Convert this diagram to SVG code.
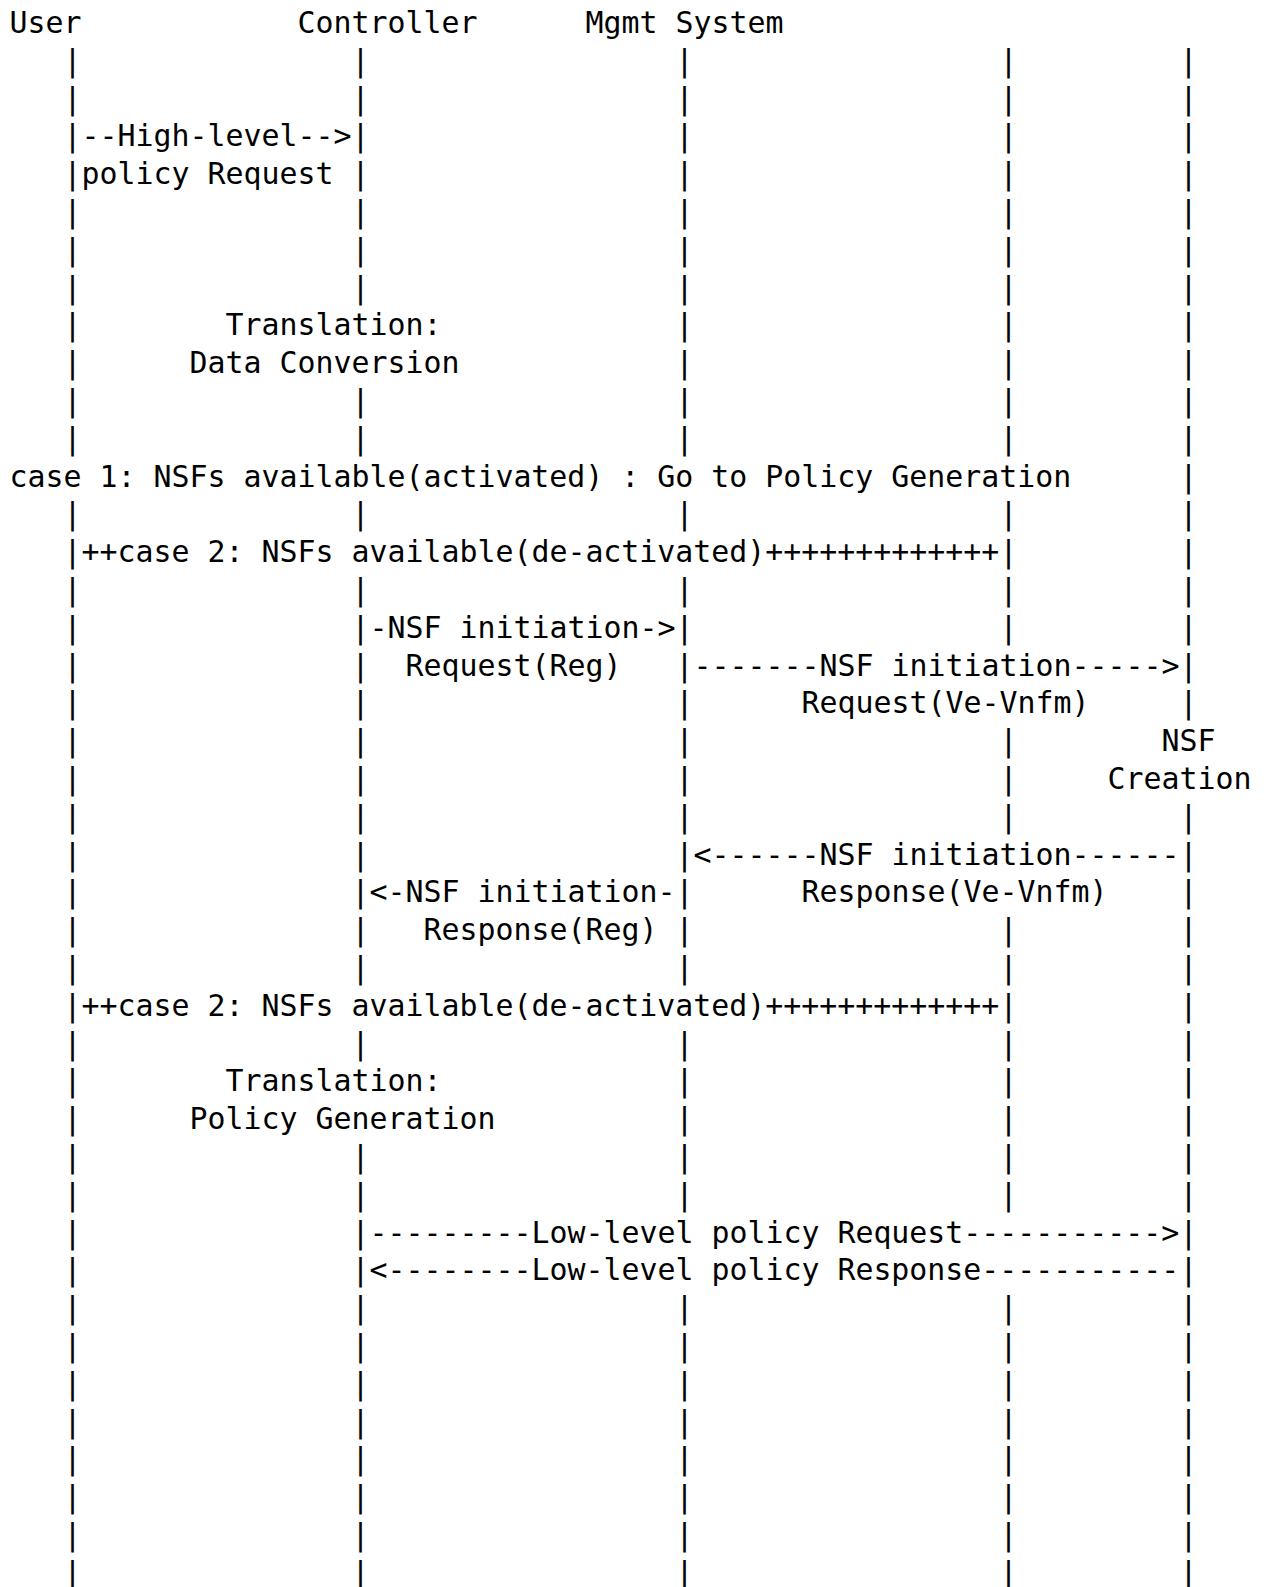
<svg xmlns="http://www.w3.org/2000/svg" width="1267" height="1587" viewBox="0 0 1267 1587">
<style>
text { font-family: "DejaVu Sans Mono", "Liberation Mono", monospace; font-size: 29.9px; fill: #000; }
</style>
<rect x="0" y="0" width="1267" height="1587" fill="#fff"/>
<g id="user"><text x="9.5" y="33">User</text></g>
<g id="controller"><text x="297.5" y="33">Controller</text></g>
<g id="mgmt-system"><text x="585.5" y="33">Mgmt System</text></g>
<g id="lifelines">
<text id="lifeline-user"><tspan x="63.5" y="70.8">|</tspan><tspan x="63.5" y="108.6">|</tspan><tspan x="63.5" y="146.4">|</tspan><tspan x="63.5" y="184.2">|</tspan><tspan x="63.5" y="222">|</tspan><tspan x="63.5" y="259.8">|</tspan><tspan x="63.5" y="297.6">|</tspan><tspan x="63.5" y="335.4">|</tspan><tspan x="63.5" y="373.2">|</tspan><tspan x="63.5" y="411">|</tspan><tspan x="63.5" y="448.8">|</tspan><tspan x="63.5" y="524.4">|</tspan><tspan x="63.5" y="562.2">|</tspan><tspan x="63.5" y="600">|</tspan><tspan x="63.5" y="637.8">|</tspan><tspan x="63.5" y="675.6">|</tspan><tspan x="63.5" y="713.4">|</tspan><tspan x="63.5" y="751.2">|</tspan><tspan x="63.5" y="789">|</tspan><tspan x="63.5" y="826.8">|</tspan><tspan x="63.5" y="864.6">|</tspan><tspan x="63.5" y="902.4">|</tspan><tspan x="63.5" y="940.2">|</tspan><tspan x="63.5" y="978">|</tspan><tspan x="63.5" y="1015.8">|</tspan><tspan x="63.5" y="1053.6">|</tspan><tspan x="63.5" y="1091.4">|</tspan><tspan x="63.5" y="1129.2">|</tspan><tspan x="63.5" y="1167">|</tspan><tspan x="63.5" y="1204.8">|</tspan><tspan x="63.5" y="1242.6">|</tspan><tspan x="63.5" y="1280.4">|</tspan><tspan x="63.5" y="1318.2">|</tspan><tspan x="63.5" y="1356">|</tspan><tspan x="63.5" y="1393.8">|</tspan><tspan x="63.5" y="1431.6">|</tspan><tspan x="63.5" y="1469.4">|</tspan><tspan x="63.5" y="1507.2">|</tspan><tspan x="63.5" y="1545">|</tspan><tspan x="63.5" y="1582.8">|</tspan></text>
<text id="lifeline-controller"><tspan x="351.5" y="70.8">|</tspan><tspan x="351.5" y="108.6">|</tspan><tspan x="351.5" y="146.4">|</tspan><tspan x="351.5" y="184.2">|</tspan><tspan x="351.5" y="222">|</tspan><tspan x="351.5" y="259.8">|</tspan><tspan x="351.5" y="297.6">|</tspan><tspan x="351.5" y="411">|</tspan><tspan x="351.5" y="448.8">|</tspan><tspan x="351.5" y="524.4">|</tspan><tspan x="351.5" y="600">|</tspan><tspan x="351.5" y="637.8">|</tspan><tspan x="351.5" y="675.6">|</tspan><tspan x="351.5" y="713.4">|</tspan><tspan x="351.5" y="751.2">|</tspan><tspan x="351.5" y="789">|</tspan><tspan x="351.5" y="826.8">|</tspan><tspan x="351.5" y="864.6">|</tspan><tspan x="351.5" y="902.4">|</tspan><tspan x="351.5" y="940.2">|</tspan><tspan x="351.5" y="978">|</tspan><tspan x="351.5" y="1053.6">|</tspan><tspan x="351.5" y="1167">|</tspan><tspan x="351.5" y="1204.8">|</tspan><tspan x="351.5" y="1242.6">|</tspan><tspan x="351.5" y="1280.4">|</tspan><tspan x="351.5" y="1318.2">|</tspan><tspan x="351.5" y="1356">|</tspan><tspan x="351.5" y="1393.8">|</tspan><tspan x="351.5" y="1431.6">|</tspan><tspan x="351.5" y="1469.4">|</tspan><tspan x="351.5" y="1507.2">|</tspan><tspan x="351.5" y="1545">|</tspan><tspan x="351.5" y="1582.8">|</tspan></text>
<text id="lifeline-mgmt"><tspan x="675.5" y="70.8">|</tspan><tspan x="675.5" y="108.6">|</tspan><tspan x="675.5" y="146.4">|</tspan><tspan x="675.5" y="184.2">|</tspan><tspan x="675.5" y="222">|</tspan><tspan x="675.5" y="259.8">|</tspan><tspan x="675.5" y="297.6">|</tspan><tspan x="675.5" y="335.4">|</tspan><tspan x="675.5" y="373.2">|</tspan><tspan x="675.5" y="411">|</tspan><tspan x="675.5" y="448.8">|</tspan><tspan x="675.5" y="524.4">|</tspan><tspan x="675.5" y="600">|</tspan><tspan x="675.5" y="637.8">|</tspan><tspan x="675.5" y="675.6">|</tspan><tspan x="675.5" y="713.4">|</tspan><tspan x="675.5" y="751.2">|</tspan><tspan x="675.5" y="789">|</tspan><tspan x="675.5" y="826.8">|</tspan><tspan x="675.5" y="864.6">|</tspan><tspan x="675.5" y="902.4">|</tspan><tspan x="675.5" y="940.2">|</tspan><tspan x="675.5" y="978">|</tspan><tspan x="675.5" y="1053.6">|</tspan><tspan x="675.5" y="1091.4">|</tspan><tspan x="675.5" y="1129.2">|</tspan><tspan x="675.5" y="1167">|</tspan><tspan x="675.5" y="1204.8">|</tspan><tspan x="675.5" y="1318.2">|</tspan><tspan x="675.5" y="1356">|</tspan><tspan x="675.5" y="1393.8">|</tspan><tspan x="675.5" y="1431.6">|</tspan><tspan x="675.5" y="1469.4">|</tspan><tspan x="675.5" y="1507.2">|</tspan><tspan x="675.5" y="1545">|</tspan><tspan x="675.5" y="1582.8">|</tspan></text>
<text id="lifeline-4"><tspan x="999.5" y="70.8">|</tspan><tspan x="999.5" y="108.6">|</tspan><tspan x="999.5" y="146.4">|</tspan><tspan x="999.5" y="184.2">|</tspan><tspan x="999.5" y="222">|</tspan><tspan x="999.5" y="259.8">|</tspan><tspan x="999.5" y="297.6">|</tspan><tspan x="999.5" y="335.4">|</tspan><tspan x="999.5" y="373.2">|</tspan><tspan x="999.5" y="411">|</tspan><tspan x="999.5" y="448.8">|</tspan><tspan x="999.5" y="524.4">|</tspan><tspan x="999.5" y="562.2">|</tspan><tspan x="999.5" y="600">|</tspan><tspan x="999.5" y="637.8">|</tspan><tspan x="999.5" y="751.2">|</tspan><tspan x="999.5" y="789">|</tspan><tspan x="999.5" y="826.8">|</tspan><tspan x="999.5" y="940.2">|</tspan><tspan x="999.5" y="978">|</tspan><tspan x="999.5" y="1015.8">|</tspan><tspan x="999.5" y="1053.6">|</tspan><tspan x="999.5" y="1091.4">|</tspan><tspan x="999.5" y="1129.2">|</tspan><tspan x="999.5" y="1167">|</tspan><tspan x="999.5" y="1204.8">|</tspan><tspan x="999.5" y="1318.2">|</tspan><tspan x="999.5" y="1356">|</tspan><tspan x="999.5" y="1393.8">|</tspan><tspan x="999.5" y="1431.6">|</tspan><tspan x="999.5" y="1469.4">|</tspan><tspan x="999.5" y="1507.2">|</tspan><tspan x="999.5" y="1545">|</tspan><tspan x="999.5" y="1582.8">|</tspan></text>
<text id="lifeline-nsf"><tspan x="1179.5" y="70.8">|</tspan><tspan x="1179.5" y="108.6">|</tspan><tspan x="1179.5" y="146.4">|</tspan><tspan x="1179.5" y="184.2">|</tspan><tspan x="1179.5" y="222">|</tspan><tspan x="1179.5" y="259.8">|</tspan><tspan x="1179.5" y="297.6">|</tspan><tspan x="1179.5" y="335.4">|</tspan><tspan x="1179.5" y="373.2">|</tspan><tspan x="1179.5" y="411">|</tspan><tspan x="1179.5" y="448.8">|</tspan><tspan x="1179.5" y="486.6">|</tspan><tspan x="1179.5" y="524.4">|</tspan><tspan x="1179.5" y="562.2">|</tspan><tspan x="1179.5" y="600">|</tspan><tspan x="1179.5" y="637.8">|</tspan><tspan x="1179.5" y="675.6">|</tspan><tspan x="1179.5" y="713.4">|</tspan><tspan x="1179.5" y="826.8">|</tspan><tspan x="1179.5" y="864.6">|</tspan><tspan x="1179.5" y="902.4">|</tspan><tspan x="1179.5" y="940.2">|</tspan><tspan x="1179.5" y="978">|</tspan><tspan x="1179.5" y="1015.8">|</tspan><tspan x="1179.5" y="1053.6">|</tspan><tspan x="1179.5" y="1091.4">|</tspan><tspan x="1179.5" y="1129.2">|</tspan><tspan x="1179.5" y="1167">|</tspan><tspan x="1179.5" y="1204.8">|</tspan><tspan x="1179.5" y="1242.6">|</tspan><tspan x="1179.5" y="1280.4">|</tspan><tspan x="1179.5" y="1318.2">|</tspan><tspan x="1179.5" y="1356">|</tspan><tspan x="1179.5" y="1393.8">|</tspan><tspan x="1179.5" y="1431.6">|</tspan><tspan x="1179.5" y="1469.4">|</tspan><tspan x="1179.5" y="1507.2">|</tspan><tspan x="1179.5" y="1545">|</tspan><tspan x="1179.5" y="1582.8">|</tspan></text>
</g>
<g id="connectors">
<text x="81.5" y="146.4">--High-level--&gt;</text>
<text x="81.5" y="184.2">policy Request</text>
<text x="369.5" y="637.8">-NSF initiation-&gt;</text>
<text x="405.5" y="675.6">Request(Reg)</text>
<text x="693.5" y="675.6">-------NSF initiation-----&gt;</text>
<text x="801.5" y="713.4">Request(Ve-Vnfm)</text>
<text x="693.5" y="864.6">&lt;------NSF initiation------</text>
<text x="369.5" y="902.4">&lt;-NSF initiation-</text>
<text x="801.5" y="902.4">Response(Ve-Vnfm)</text>
<text x="423.5" y="940.2">Response(Reg)</text>
<text x="369.5" y="1242.6">---------Low-level policy Request-----------&gt;</text>
<text x="369.5" y="1280.4">&lt;--------Low-level policy Response-----------</text>
</g>
<g id="translation-data-conversion"><text x="225.5" y="335.4">Translation:</text><text x="189.5" y="373.2">Data Conversion</text></g>
<g id="case-1"><text x="9.5" y="486.6">case 1: NSFs available(activated) : Go to Policy Generation</text></g>
<g id="case-2-start"><text x="81.5" y="562.2">++case 2: NSFs available(de-activated)+++++++++++++</text></g>
<g id="nsf-creation"><text x="1161.5" y="751.2">NSF</text><text x="1107.5" y="789">Creation</text></g>
<g id="case-2-end"><text x="81.5" y="1015.8">++case 2: NSFs available(de-activated)+++++++++++++</text></g>
<g id="translation-policy-generation"><text x="225.5" y="1091.4">Translation:</text><text x="189.5" y="1129.2">Policy Generation</text></g>
</svg>
